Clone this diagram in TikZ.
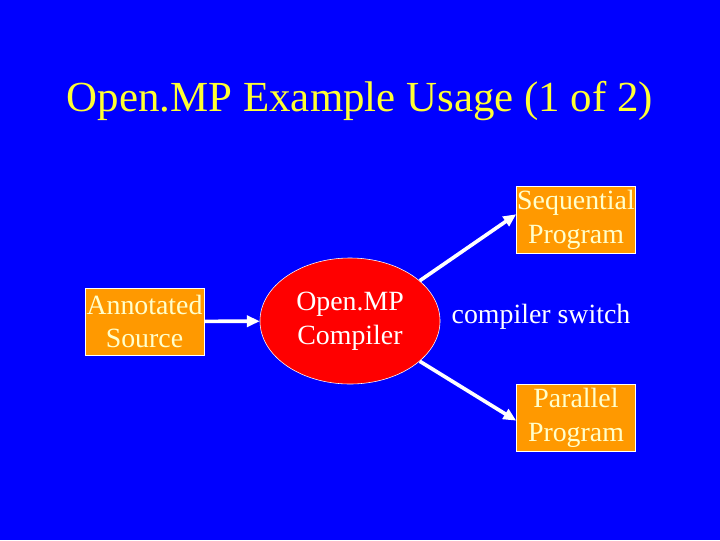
\documentclass[tikz,border=0pt]{standalone}
\usepackage{fontspec}
\setmainfont{Liberation Serif}
\usepackage{xcolor}
\usepackage{tikz}
\usetikzlibrary{arrows.meta,positioning,shapes.geometric}
\definecolor{slideblue}{RGB}{0,0,255}
\definecolor{boxorange}{RGB}{255,153,0}
\definecolor{cream}{RGB}{255,255,204}
\definecolor{titleyellow}{RGB}{255,255,51}

\begin{document}
\begin{tikzpicture}[x=0.025cm, y=-0.025cm,
srcbox/.style={draw=white, fill=boxorange, text=cream, minimum width=2.975cm, minimum height=1.675cm, inner sep=0pt, align=center, font=\fontsize{19.8}{24}\selectfont},
compiler/.style={ellipse, draw=white, fill=red, text=white, minimum width=4.5cm, minimum height=3.15cm, inner sep=0pt, align=center, font=\fontsize{19.8}{24}\selectfont},
arrow/.style={-{Triangle[length=3.2mm, width=2.8mm]}, line width=2.6pt, white}
]
\fill[slideblue] (0,0) rectangle (720,540);
\node[font=\fontsize{30.5}{36}\selectfont, text=titleyellow, anchor=base] (title) at (360,111) {Open.MP Example Usage (1 of 2)};

\node[srcbox] (annot) at (144.5,321.5) {Annotated\\Source};
\node[compiler] (omp) at (350,321) {Open.MP\\Compiler};
\node[srcbox] (seq) at (576,219.5) {Sequential\\Program};
\node[srcbox] (par) at (576,417.5) {Parallel\\Program};
\node[text=white, font=\fontsize{19.8}{24}\selectfont] (switch) at (541,317) {compiler switch};

\draw[arrow] (annot) -- (omp);
\draw[arrow] (omp.30) -- (seq.175);
\draw[arrow] (omp.-30) -- (par.183);
\end{tikzpicture}
\end{document}
